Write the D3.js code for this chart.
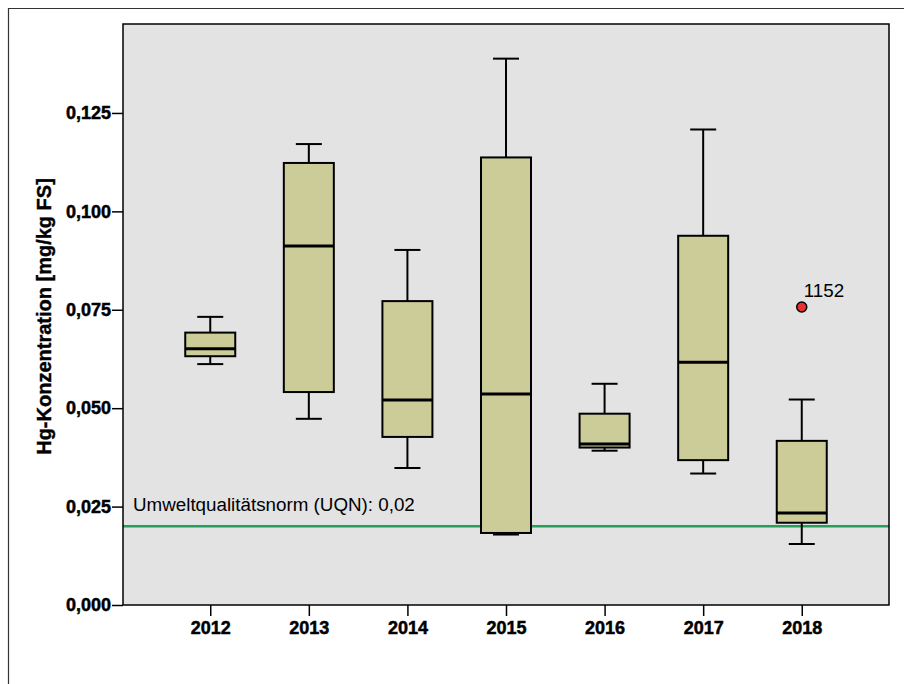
<!DOCTYPE html>
<html>
<head>
<meta charset="utf-8">
<script src="https://cdn.jsdelivr.net/npm/d3@7"></script>
<style>
  body { margin: 0; background: #fff; }
  svg text { font-family: "Liberation Sans", Arial, sans-serif; }
</style>
</head>
<body>
<div id="chart"></div>
<script>
// Data
const years = ["2012", "2013", "2014", "2015", "2016", "2017", "2018"];
const whiskerLow = [0.0612, 0.0473, 0.0348, 0.0179, 0.0392, 0.0334, 0.0155];
const q1 = [0.0632, 0.0541, 0.0427, 0.0183, 0.0400, 0.0368, 0.0209];
const medians = [0.0651, 0.0912, 0.0521, 0.0536, 0.0409, 0.0617, 0.0234];
const q3 = [0.0692, 0.1123, 0.0772, 0.1137, 0.0486, 0.0938, 0.0417];
const whiskerHigh = [0.0732, 0.1171, 0.0902, 0.1388, 0.0562, 0.1208, 0.0522];
const outliers = [{ year: "2018", value: 0.0757, label: "1152" }];
const yTicks = [0, 0.025, 0.05, 0.075, 0.1, 0.125];
const uqn = 0.02;

const boxes = years.map((y, i) => ({
    year: y, lo: whiskerLow[i], q1: q1[i], med: medians[i], q3: q3[i], hi: whiskerHigh[i]
}));

const width = 904, height = 684;
const margin = {top: 24, right: 15, bottom: 79, left: 123};
const innerW = width - margin.left - margin.right;
const innerH = height - margin.top - margin.bottom;

const svg = d3.select("#chart").append("svg")
    .attr("width", width)
    .attr("height", height);

// Outer frame (top and left lines)
svg.append("path")
    .attr("d", `M8.5,${height} V8.5 H${width}`)
    .attr("fill", "none")
    .attr("stroke", "#333")
    .attr("stroke-width", 1.2);

const g = svg.append("g")
    .attr("transform", `translate(${margin.left},${margin.top})`);

const x = d3.scalePoint()
    .domain(years)
    .range([0, innerW])
    .padding(0.885);

const y = d3.scaleLinear()
    .domain([0, 0.1476])
    .range([innerH, 0]);

// Plot background
g.append("rect")
    .attr("width", innerW)
    .attr("height", innerH)
    .attr("fill", "#e3e3e3");

// Y axis
const yAxis = g.append("g")
    .call(d3.axisLeft(y)
        .tickValues(yTicks)
        .tickSize(11)
        .tickPadding(1)
        .tickFormat(d => d3.format(".3f")(d).replace(".", ",")));
yAxis.select(".domain").remove();
yAxis.selectAll(".tick line").attr("stroke", "#000").attr("stroke-width", 1.5);
yAxis.selectAll("text")
    .attr("fill", "#000")
    .attr("stroke", "#000")
    .attr("stroke-width", 0.5)
    .style("font-size", "18px")
    .style("font-weight", "bold");

// X axis
const xAxis = g.append("g")
    .attr("transform", `translate(0,${innerH})`)
    .call(d3.axisBottom(x).tickSize(11).tickPadding(5));
xAxis.select(".domain").remove();
xAxis.selectAll(".tick line").attr("stroke", "#000").attr("stroke-width", 1.5);
xAxis.selectAll("text")
    .attr("fill", "#000")
    .attr("stroke", "#000")
    .attr("stroke-width", 0.5)
    .style("font-size", "18px")
    .style("font-weight", "bold");

// Y axis title
svg.append("text")
    .attr("transform", `translate(51,${margin.top + innerH / 2 + 2}) rotate(-90)`)
    .attr("text-anchor", "middle")
    .attr("stroke", "#000")
    .attr("stroke-width", 0.4)
    .style("font-size", "20px")
    .style("font-weight", "bold")
    .text("Hg-Konzentration [mg/kg FS]");

// Reference line (UQN)
g.append("line")
    .attr("x1", 0)
    .attr("x2", innerW)
    .attr("y1", y(uqn))
    .attr("y2", y(uqn))
    .attr("stroke", "#23a05a")
    .attr("stroke-width", 2.5);

g.append("text")
    .attr("x", 10)
    .attr("y", y(uqn) - 15)
    .style("font-size", "18.8px")
    .attr("fill", "#000")
    .text("Umweltqualitätsnorm (UQN): 0,02");

// Boxes
const boxW = 50, capW = 26;
const bx = g.selectAll(".box")
    .data(boxes)
    .join("g")
    .attr("class", "box")
    .attr("transform", d => `translate(${x(d.year)},0)`);

bx.append("line")
    .attr("y1", d => y(d.hi))
    .attr("y2", d => y(d.lo))
    .attr("stroke", "#000")
    .attr("stroke-width", 2);

bx.append("line")
    .attr("x1", -capW / 2).attr("x2", capW / 2)
    .attr("y1", d => y(d.hi)).attr("y2", d => y(d.hi))
    .attr("stroke", "#000").attr("stroke-width", 2);

bx.append("line")
    .attr("x1", -capW / 2).attr("x2", capW / 2)
    .attr("y1", d => y(d.lo)).attr("y2", d => y(d.lo))
    .attr("stroke", "#000").attr("stroke-width", 2);

bx.append("rect")
    .attr("x", -boxW / 2)
    .attr("width", boxW)
    .attr("y", d => y(d.q3))
    .attr("height", d => y(d.q1) - y(d.q3))
    .attr("fill", "#cccc99")
    .attr("stroke", "#000")
    .attr("stroke-width", 2);

bx.append("line")
    .attr("x1", -boxW / 2).attr("x2", boxW / 2)
    .attr("y1", d => y(d.med)).attr("y2", d => y(d.med))
    .attr("stroke", "#000").attr("stroke-width", 3);

// Outliers
g.selectAll(".outlier")
    .data(outliers)
    .join("circle")
    .attr("class", "outlier")
    .attr("cx", d => x(d.year))
    .attr("cy", d => y(d.value))
    .attr("r", 5)
    .attr("fill", "#e8302f")
    .attr("stroke", "#000")
    .attr("stroke-width", 1.5);

g.selectAll(".outlier-label")
    .data(outliers)
    .join("text")
    .attr("class", "outlier-label")
    .attr("x", d => x(d.year) + 2)
    .attr("y", d => y(d.value) - 10)
    .style("font-size", "18.8px")
    .attr("fill", "#000")
    .text(d => d.label);

// Plot border
g.append("rect")
    .attr("width", innerW)
    .attr("height", innerH)
    .attr("fill", "none")
    .attr("stroke", "#000")
    .attr("stroke-width", 1.5);
</script>
</body>
</html>
